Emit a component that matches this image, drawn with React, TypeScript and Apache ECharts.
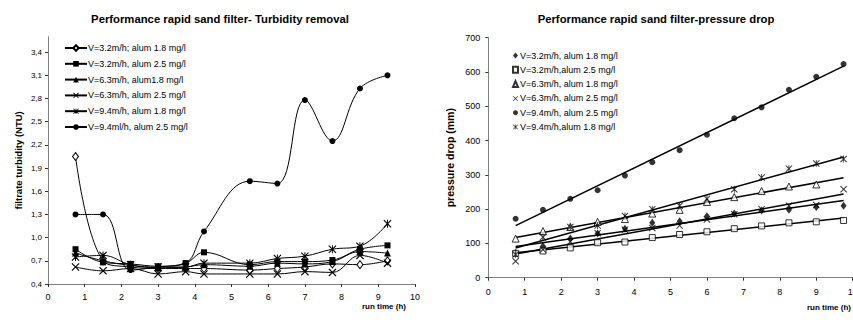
import React, { useEffect, useRef } from "react";
import * as echarts from "echarts";

// ---------- Left chart: turbidity ----------
const turbTimes = [0.75, 1.5, 2.25, 3, 3.75, 4.25, 5.5, 6.25, 7, 7.75, 8.5, 9.25];
const turbV32A18 = [2.05, 0.7, 0.62, 0.6, 0.6, 0.6, 0.58, 0.6, 0.62, 0.66, 0.65, 0.7];
const turbV32A25 = [0.85, 0.68, 0.66, 0.63, 0.67, 0.81, 0.65, 0.69, 0.69, 0.71, 0.85, 0.9];
const turbV63A18 = [0.8, 0.7, 0.64, 0.61, 0.62, 0.65, 0.63, 0.67, 0.66, 0.69, 0.82, 0.8];
const turbV63A25 = [0.62, 0.57, 0.6, 0.53, 0.56, 0.53, 0.53, 0.53, 0.56, 0.55, 0.77, 0.67];
const turbV94A18 = [0.75, 0.77, 0.65, 0.62, 0.62, 0.67, 0.67, 0.73, 0.76, 0.85, 0.89, 1.18];
const turbV94A25 = [1.3, 1.3, 0.58, 0.62, 0.67, 1.08, 1.73, 1.7, 2.78, 2.25, 2.93, 3.1];
const turbYTicks = [0.4, 0.7, 1.0, 1.3, 1.6, 1.9, 2.2, 2.5, 2.8, 3.1, 3.4];

const turbNames = [
  "V=3.2m/h; alum 1.8 mg/l",
  "V=3.2m/h, alum 2.5 mg/l",
  "V=6.3m/h, alum1.8 mg/l",
  "V=6.3m/h, alum 2.5 mg/l",
  "V=9.4m/h, alum 1.8 mg/l",
  "V=9.4ml/h, alum 2.5 mg/l",
];

// ---------- Right chart: pressure drop ----------
const pressTimes = [0.75, 1.5, 2.25, 3, 3.75, 4.5, 5.25, 6, 6.75, 7.5, 8.25, 9, 9.75];
const pressV32A18 = [73, 92, 114, 129, 143, 160, 165, 179, 187, 196, 198, 206, 210];
const pressV32A25 = [71, 78, 87, 102, 104, 117, 126, 134, 143, 151, 160, 163, 167];
const pressV63A18 = [114, 136, 148, 163, 171, 187, 198, 221, 235, 253, 266, 272];
const pressV63A25 = [48, 82, 105, 130, 140, 145, 152, 170, 185, 200, 210, 212, 258];
const pressV94A25 = [172, 198, 230, 255, 298, 337, 372, 417, 465, 497, 548, 586, 623];
const pressV94A18 = [68, 118, 148, 152, 180, 200, 210, 230, 258, 292, 318, 333, 346];

const pressNames = [
  "V=3.2m/h, alum 1.8 mg/l",
  "V=3.2m/h,alum 2.5 mg/l",
  "V=6.3m/h, alum 1.8 mg/l",
  "V=6.3m/h, alum 2.5 mg/l",
  "V=9.4m/h, alum 2.5 mg/l",
  "V=9.4m/h,alum 1.8 mg/l",
];

const X_PATH = "path://M0,1L1,0L5,4L9,0L10,1L6,5L10,9L9,10L5,6L1,10L0,9L4,5Z";
const ASTER_PATH = "path://M0,1L1,0L5,4L9,0L10,1L6,5L10,9L9,10L5,6L1,10L0,9L4,5ZM4.4,0L5.6,0L5.6,10L4.4,10Z";

const FONT = "'Liberation Sans', Arial, sans-serif";

function pairs(xs: number[], ys: number[]) {
  return ys.map((y, i) => [xs[i], y]);
}

function trend(xs: number[], ys: number[]) {
  const n = ys.length;
  const x = xs.slice(0, n);
  const mx = x.reduce((a, b) => a + b, 0) / n;
  const my = ys.reduce((a, b) => a + b, 0) / n;
  let sxy = 0;
  let sxx = 0;
  for (let i = 0; i < n; i++) {
    sxy += (x[i] - mx) * (ys[i] - my);
    sxx += (x[i] - mx) * (x[i] - mx);
  }
  const b = sxy / sxx;
  const a = my - b * mx;
  const x0 = xs[0];
  const x1 = xs[xs.length - 1];
  return [
    [x0, a + b * x0],
    [x1, a + b * x1],
  ];
}

export default function App() {
  const ref = useRef<HTMLDivElement>(null);

  useEffect(() => {
    if (!ref.current) return;
    const chart = echarts.init(ref.current, undefined, { renderer: "svg" });

    const turbData = [turbV32A18, turbV32A25, turbV63A18, turbV63A25, turbV94A18, turbV94A25];
    const turbSym: any[] = [
      { symbol: "diamond", symbolSize: [6, 8], itemStyle: { color: "#fff", borderColor: "#000", borderWidth: 1 } },
      { symbol: "rect", symbolSize: 6, itemStyle: { color: "#000" } },
      { symbol: "triangle", symbolSize: 7, itemStyle: { color: "#000" } },
      { symbol: X_PATH, symbolSize: 8, itemStyle: { color: "#000" } },
      { symbol: ASTER_PATH, symbolSize: 8, itemStyle: { color: "#000" } },
      { symbol: "circle", symbolSize: 6, itemStyle: { color: "#000" } },
    ];

    const pressData = [pressV32A18, pressV32A25, pressV63A18, pressV63A25, pressV94A25, pressV94A18];
    const pressKeys = ["pd1", "pd2", "pd3", "pd4", "pd5", "pd6"];
    const pressSym: any[] = [
      { symbol: "diamond", symbolSize: [6, 8], itemStyle: { color: "#000" } },
      { symbol: "rect", symbolSize: 6, itemStyle: { color: "#fff", borderColor: "#000", borderWidth: 1 } },
      { symbol: "triangle", symbolSize: 7, itemStyle: { color: "#fff", borderColor: "#000", borderWidth: 1 } },
      { symbol: X_PATH, symbolSize: 7, itemStyle: { color: "#000" } },
      { symbol: "circle", symbolSize: 6, itemStyle: { color: "#000" } },
      { symbol: ASTER_PATH, symbolSize: 7, itemStyle: { color: "#000" } },
    ];

    const axisCommon = {
      axisLine: { lineStyle: { color: "#808080", width: 1 } },
      axisTick: { lineStyle: { color: "#333" }, length: 3 },
      splitLine: { show: false },
    };

    const series: any[] = [];
    turbData.forEach((d, i) => {
      series.push({
        type: "line",
        name: turbNames[i],
        xAxisIndex: 0,
        yAxisIndex: 0,
        data: pairs(turbTimes, d),
        smooth: 0.4,
        lineStyle: { color: "#000", width: 1 },
        ...turbSym[i],
        z: 3,
      });
    });
    pressData.forEach((d, i) => {
      series.push({
        type: "line",
        name: "trend" + i,
        xAxisIndex: 1,
        yAxisIndex: 1,
        data: trend(pressTimes, d),
        showSymbol: false,
        symbol: "none",
        silent: true,
        lineStyle: { color: "#000", width: 1.5 },
        z: 2,
      });
    });
    pressData.forEach((d, i) => {
      series.push({
        type: "scatter",
        name: pressKeys[i],
        xAxisIndex: 1,
        yAxisIndex: 1,
        data: pairs(pressTimes, d),
        ...pressSym[i],
        z: 4,
      });
    });

    chart.setOption({
      animation: false,
      backgroundColor: "#fff",
      textStyle: { fontFamily: FONT, color: "#000" },
      title: [
        {
          text: "Performance rapid sand filter- Turbidity removal",
          left: 215,
          textAlign: "center",
          top: 8,
          textStyle: { fontSize: 11.3, fontWeight: "bold", fontFamily: FONT, color: "#000" },
        },
        {
          text: "Performance rapid sand filter-pressure drop",
          left: 651,
          textAlign: "center",
          top: 8,
          textStyle: { fontSize: 11.3, fontWeight: "bold", fontFamily: FONT, color: "#000" },
        },
      ],
      legend: [
        {
          orient: "vertical",
          left: 59,
          top: 38,
          itemWidth: 22,
          itemHeight: 7,
          itemGap: 5.8,
          data: turbNames,
          textStyle: { fontSize: 9, fontFamily: FONT, color: "#000", lineHeight: 10, padding: [0, 0, 0, -4] },
          selectedMode: false,
        },
        {
          orient: "vertical",
          left: 507,
          top: 46,
          itemWidth: 5,
          itemHeight: 6,
          itemGap: 5.3,
          data: pressKeys,
          formatter: (n: string) => pressNames[pressKeys.indexOf(n)],
          textStyle: { fontSize: 9, fontFamily: FONT, color: "#000", lineHeight: 9, padding: [0, 0, 0, -3] },
          selectedMode: false,
        },
      ],
      grid: [
        { left: 48, top: 36.7, width: 367, height: 247.3, outerBoundsMode: "none" },
        { left: 488.3, top: 37.7, width: 364.4, height: 240, outerBoundsMode: "none" },
      ],
      xAxis: [
        {
          type: "value",
          gridIndex: 0,
          min: 0,
          max: 10,
          interval: 1,
          ...axisCommon,
          axisLabel: { fontSize: 9, color: "#000", margin: 8 },
        },
        {
          type: "value",
          gridIndex: 1,
          min: 0,
          max: 10,
          interval: 1,
          ...axisCommon,
          axisLabel: { fontSize: 9, color: "#000", margin: 10, alignMaxLabel: "center" },
        },
      ],
      yAxis: [
        {
          type: "value",
          gridIndex: 0,
          min: 0.4,
          max: 3.6,
          name: "filtrate turbidity (NTU)",
          nameLocation: "middle",
          nameGap: 25,
          nameTextStyle: { fontSize: 9.5, fontWeight: "bold", color: "#000" },
          axisLine: { show: true, lineStyle: { color: "#808080", width: 1 } },
          axisTick: { show: true, length: 3, lineStyle: { color: "#333" }, customValues: turbYTicks },
          splitLine: { show: false },
          axisLabel: {
            fontSize: 8,
            color: "#000",
            margin: 6,
            customValues: turbYTicks,
            formatter: (v: number) => v.toFixed(1).replace(".", ","),
          },
        },
        {
          type: "value",
          gridIndex: 1,
          min: 0,
          max: 700,
          interval: 100,
          name: "pressure drop (mm)",
          nameLocation: "middle",
          nameGap: 33,
          nameTextStyle: { fontSize: 10.5, fontWeight: "bold", color: "#000" },
          axisLine: { show: true, lineStyle: { color: "#808080", width: 1 } },
          axisTick: { show: true, length: 3, lineStyle: { color: "#333" } },
          splitLine: { show: false },
          axisLabel: { fontSize: 9, color: "#000", margin: 8 },
        },
      ],
      graphic: [
        {
          type: "text",
          right: 853 - 406,
          top: 302,
          style: { text: "run time (h)", fontSize: 8, fontWeight: "bold", fontFamily: FONT, fill: "#000" },
        },
        {
          type: "text",
          left: 807,
          top: 303,
          style: { text: "run time (h)", fontSize: 8, fontWeight: "bold", fontFamily: FONT, fill: "#000" },
        },
      ],
      series,
    });

    return () => chart.dispose();
  }, []);

  return (
    <div
      ref={ref}
      style={{ position: "fixed", left: 0, top: 0, width: 853, height: 324, background: "#fff" }}
    />
  );
}
